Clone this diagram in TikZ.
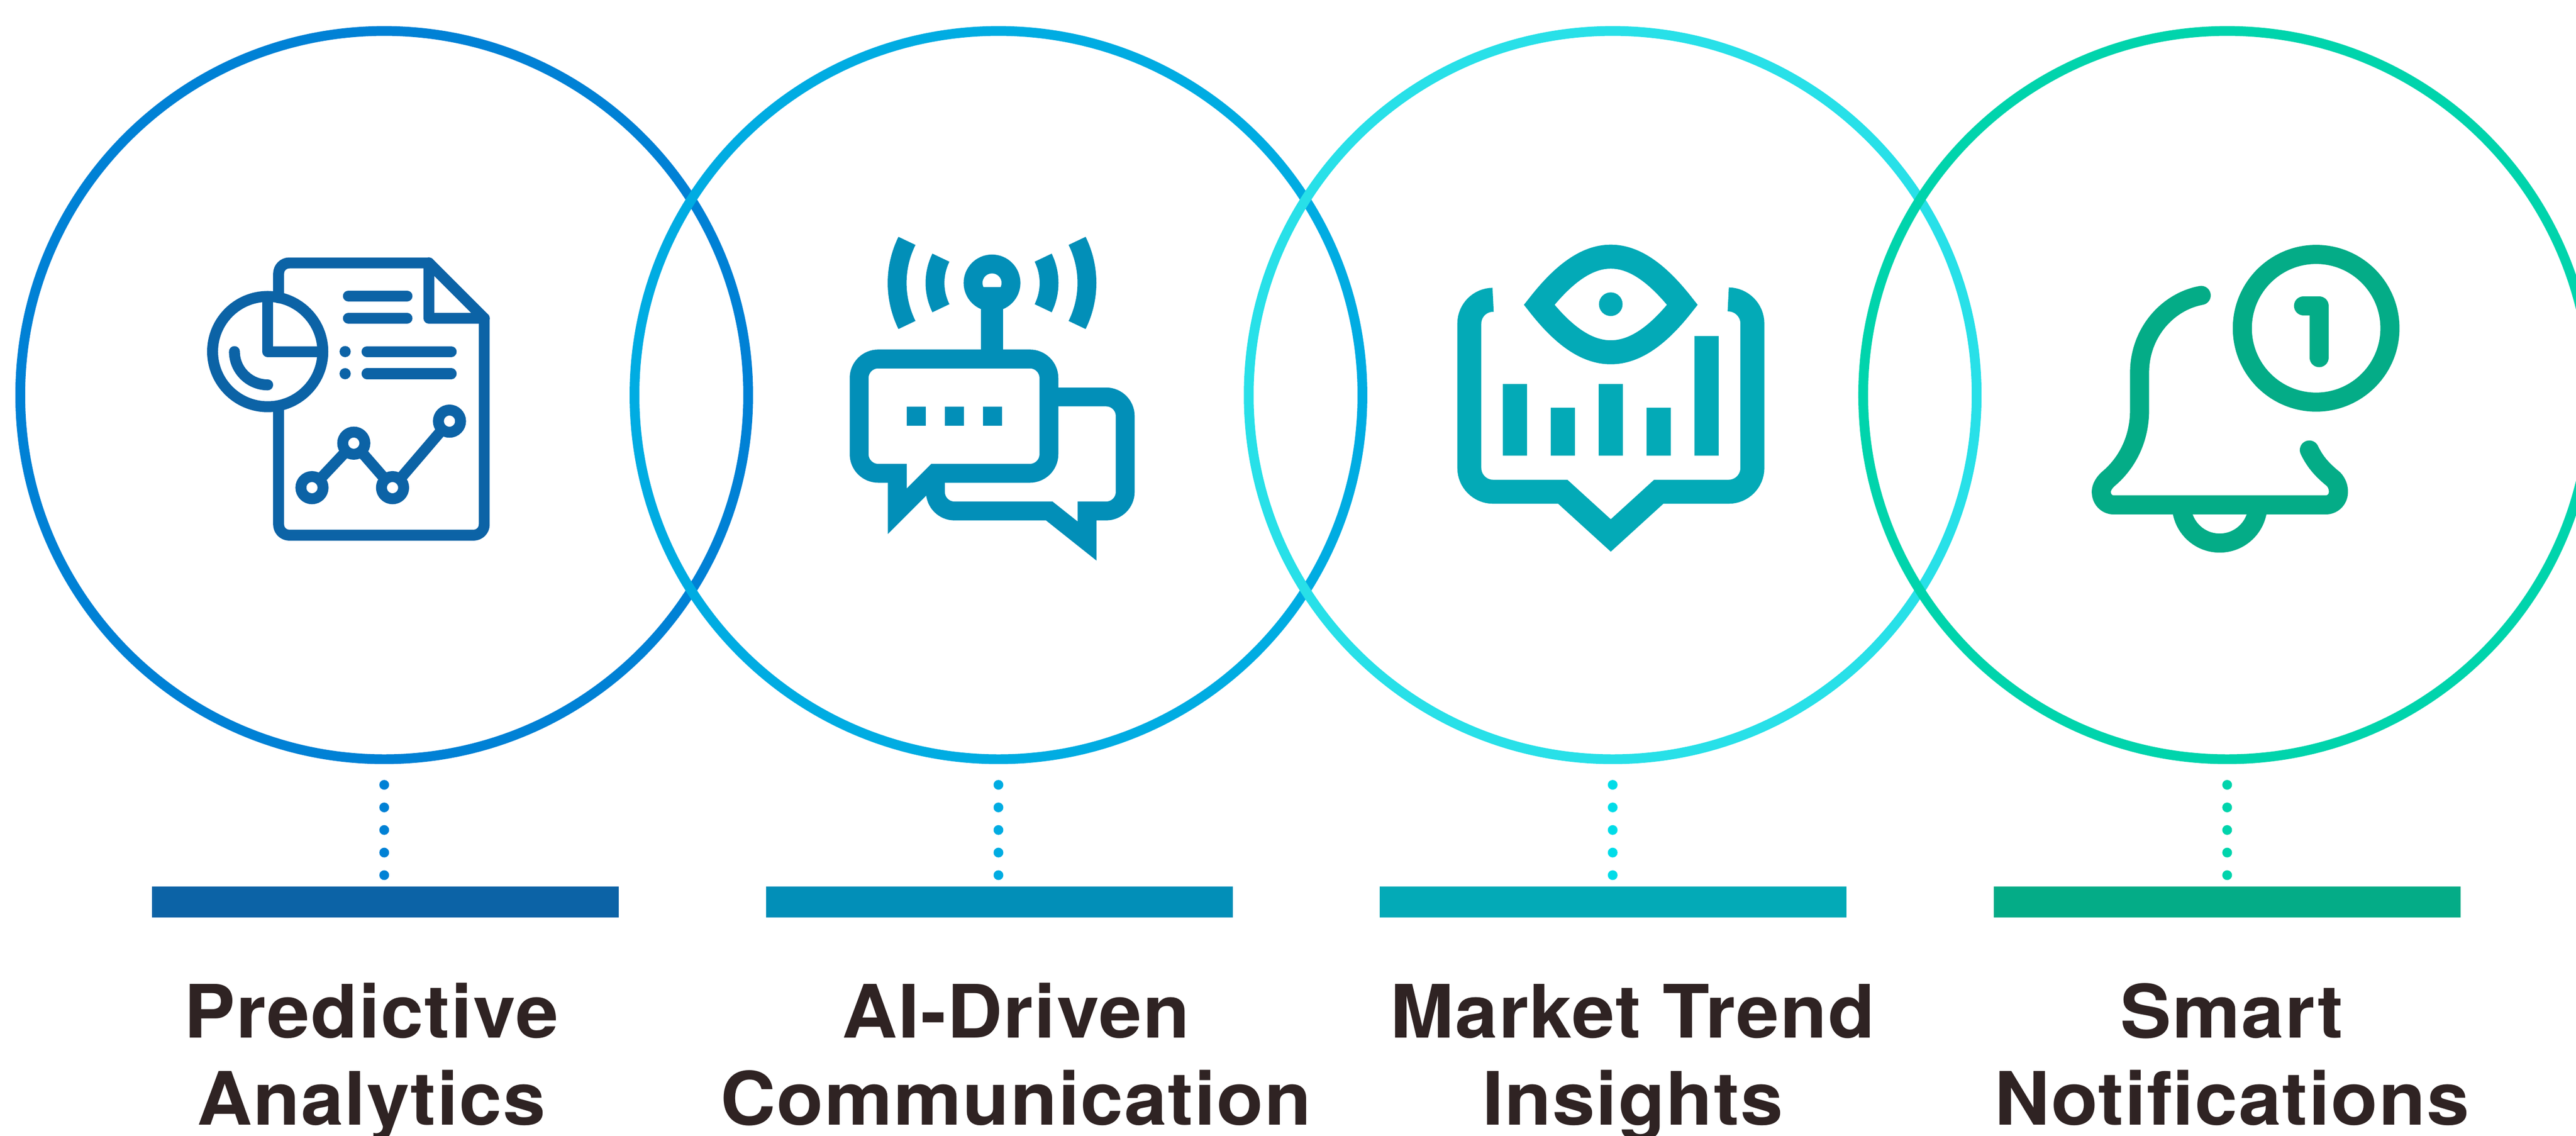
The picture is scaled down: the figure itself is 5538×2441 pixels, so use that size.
\documentclass[tikz,border=0pt]{standalone}
\usepackage{fontspec}
\newfontfamily\lblfont{TeX Gyre Heros}[LetterSpace=1.4,FakeStretch=1.04]
\newdimen\pxu \pxu=0.28453pt
\definecolor{ringA}{HTML}{0081D5}
\definecolor{ringB}{HTML}{00ACE2}
\definecolor{ringC}{HTML}{28E0E8}
\definecolor{ringD}{HTML}{00D4AC}
\definecolor{dotC}{HTML}{00DCE8}
\definecolor{inkA}{HTML}{0C63A6}
\definecolor{inkB}{HTML}{028FB8}
\definecolor{inkC}{HTML}{03AAB7}
\definecolor{inkD}{HTML}{04AC87}
\definecolor{labelink}{HTML}{2F2323}
\tikzset{
  ring/.style={circle,draw=#1,line width=21\pxu,minimum size=1564\pxu,inner sep=0pt,outer sep=0pt},
  barbox/.style={rectangle,fill=#1,minimum width=1003\pxu,minimum height=66\pxu,inner sep=0pt,outer sep=0pt},
  dotline/.style={draw=#1,line width=21\pxu,line cap=round,dash pattern=on 0pt off 48.5\pxu,shorten <=55\pxu,shorten >=24\pxu},
  caption/.style={anchor=base,align=center,inner sep=0pt,outer sep=0pt,text=labelink,font=\lblfont\bfseries\fontsize{45}{53.2}\selectfont},
  iconA/.style={draw=inkA,line width=23.5\pxu,line join=round,line cap=round},
  iconB/.style={draw=inkB,line width=40.5\pxu,miter limit=10},
  iconC/.style={draw=inkC,line width=51.5\pxu,miter limit=10},
  iconD/.style={draw=inkD,line width=41\pxu,line join=round,line cap=round},
  chartdot/.style={circle,draw=inkA,line width=23.5\pxu,minimum size=47.6\pxu,inner sep=0pt,outer sep=0pt}
}
\begin{document}
\begin{tikzpicture}[x=0.01cm,y=-0.01cm]
\useasboundingbox (0,0) rectangle (5538,2441);
\clip (0,0) rectangle (5538,2441);
% rings
\node[ring=ringA] (c1) at (826,849) {};
\node[ring=ringB] (c2) at (2146.5,849) {};
\node[ring=ringC] (c3) at (3467,849) {};
\node[ring=ringD] (c4) at (4788,849) {};
% bars
\node[barbox=inkA] (b1) at (828.5,1938) {};
\node[barbox=inkB] (b2) at (2148.5,1938) {};
\node[barbox=inkC] (b3) at (3467.5,1938) {};
\node[barbox=inkD] (b4) at (4788,1938) {};
% dotted connectors
\draw[dotline=ringA] (c1.south) -- (c1.south |- b1.north);
\draw[dotline=ringB] (c2.south) -- (c2.south |- b2.north);
\draw[dotline=dotC] (c3.south) -- (c3.south |- b3.north);
\draw[dotline=ringD] (c4.south) -- (c4.south |- b4.north);
% captions
\node[caption] (t1) at (798,2417.5) {Predictive\\Analytics};
\node[caption] (t2) at (2184,2417.5) {AI-Driven\\Communication};
\node[caption] (t3) at (3510,2417.5) {Market Trend\\Insights};
\node[caption] (t4) at (4798,2417.5) {Smart\\Notifications};
% icon A : report
\draw[iconA,rounded corners=6.5pt] (599,640) -- (599,565) -- (922,565);
\draw[iconA] (922,565) -- (1041,684);
\draw[iconA,rounded corners=6.5pt] (1041,684) -- (1041,1150) -- (599,1150) -- (599,872);
\draw[iconA] (922,565) -- (922,684) -- (1041,684);
\draw[iconA] (575.5,755.5) circle (118.5);
\draw[iconA] (575.5,637) -- (575.5,755.5) -- (694,755.5);
\draw[iconA] (504,755.5) arc (180:90:71.5);
\draw[iconA] (749,636) -- (875,636);
\draw[iconA] (749,684) -- (875,684);
\draw[iconA] (789,755.5) -- (970,755.5);
\draw[iconA] (789,803) -- (970,803);
\fill[inkA] (742,755.5) circle (12);
\fill[inkA] (742,803) circle (12);
\node[chartdot] (n1) at (670.7,1047.9) {};
\node[chartdot] (n2) at (760.6,952.3) {};
\node[chartdot] (n3) at (843.9,1047.9) {};
\node[chartdot] (n4) at (966.3,905) {};
\draw[iconA,line cap=butt] (n1) -- (n2);
\draw[iconA,line cap=butt] (n2) -- (n3);
\draw[iconA,line cap=butt] (n3) -- (n4);
% icon B : chat
\draw[iconB] (1929,1017) -- (1888,1017) arc (90:180:41) -- (1847,812.4) arc (180:270:41) -- (2214,771.4) arc (270:360:41) -- (2255,976) arc (0:90:41) -- (2010.5,1017) -- (1929,1098.5) -- cycle;
\draw[iconB] (2255,853) -- (2378,853) arc (270:360:41) -- (2419,1057) arc (0:90:41) -- (2337,1098) -- (2337,1162.6) -- (2255.7,1098) -- (2052,1098) arc (90:180:41) -- (2011,1017);
\draw[iconB] (2132.7,608) circle (40.75);
\draw[inkB,line width=47.3\pxu] (2132.7,771) -- (2132.7,617);
\draw[iconB] (1949.8,517.6) arc (206.3:153.7:204);
\draw[iconB] (2022.8,553.7) arc (206.3:153.7:122.6);
\draw[iconB] (2315.6,517.6) arc (-26.3:26.3:204);
\draw[iconB] (2242.6,553.7) arc (-26.3:26.3:122.6);
\fill[inkB] (1949.2,873.9) rectangle (1990,915.2);
\fill[inkB] (2030.9,873.9) rectangle (2072,915.2);
\fill[inkB] (2113,873.9) rectangle (2154,915.2);
% icon C : eye and bars
\draw[iconC] (3209.9,644.2) arc (270:180:51.1) -- (3158.8,1005.6) arc (180:90:51.1) -- (3359.7,1056.7) -- (3462.9,1150.6) -- (3566,1056.7) -- (3716.2,1056.7) arc (90:0:51.1) -- (3767.3,695.3) arc (0:-90:51.9);
\draw[iconC] (3309,655) .. controls (3360,590) and (3410,551.5) .. (3462.9,551.5) .. controls (3515.8,551.5) and (3565.8,590) .. (3616.8,655) .. controls (3565.8,720) and (3515.8,757) .. (3462.9,757) .. controls (3410,757) and (3360,720) .. cycle;
\fill[inkC] (3462.9,653.7) circle (25.4);
\fill[inkC] (3231.2,825) rectangle (3283.1,979.3);
\fill[inkC] (3334,876) rectangle (3385.8,979.3);
\fill[inkC] (3437.2,825) rectangle (3489,979.3);
\fill[inkC] (3540,876) rectangle (3591.8,979.3);
\fill[inkC] (3643.2,722.1) rectangle (3695,979.3);
% icon D : bell
\draw[iconD] (4979.3,705.4) circle (158.7);
\draw[iconD] (4952.2,657) -- (4985.7,657) -- (4985.7,768.5);
\draw[iconD] (4732.2,634.8) .. controls (4660,648) and (4599.7,715) .. (4599.7,801) -- (4599.7,881) .. controls (4599.7,945) and (4572,995) .. (4535,1027) .. controls (4524,1036) and (4517.4,1047) .. (4517.4,1057) .. controls (4517.4,1073) and (4529,1085) .. (4544.2,1085) -- (5000,1085) .. controls (5015,1085) and (5027.3,1073) .. (5027.3,1057) .. controls (5027.3,1047) and (5024,1038) .. (5017,1030) .. controls (4995,1012) and (4978,995) .. (4964.7,967);
\draw[iconD] (4689.9,1085) arc (180:0:82);
\end{tikzpicture}
\end{document}
